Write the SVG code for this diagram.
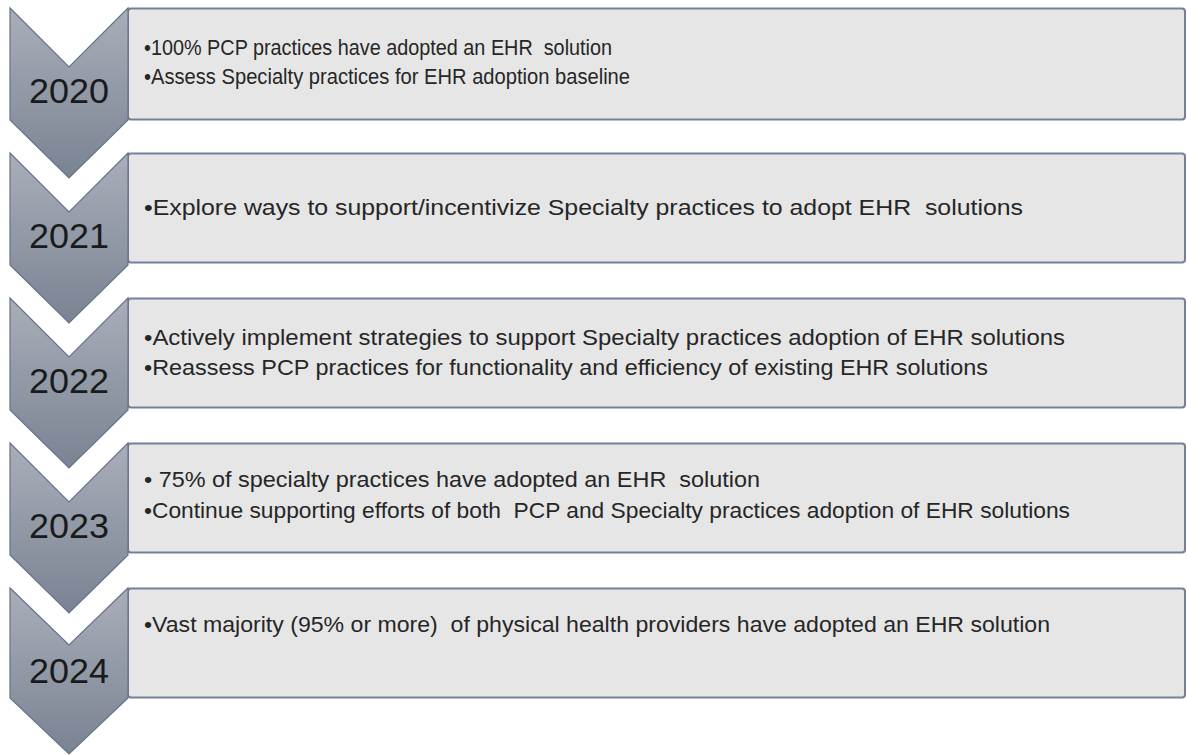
<svg xmlns="http://www.w3.org/2000/svg" width="1187" height="755" viewBox="0 0 1187 755">
<defs>
<linearGradient id="chev" x1="0" y1="0" x2="0" y2="1">
<stop offset="0" stop-color="#a9aeb9"/>
<stop offset="1" stop-color="#7a8393"/>
</linearGradient>
<style>
.box{fill:#e6e6e6;stroke:#74809a;stroke-width:2}
.chev{fill:url(#chev);stroke:#66728a;stroke-width:1.2}
.year{font-family:"Liberation Sans",Arial,sans-serif;font-size:35px;fill:#1a1a1a;text-anchor:middle}
.item{font-family:"Liberation Sans",Arial,sans-serif;font-size:22px;fill:#262626;white-space:pre}
</style>
</defs>
<rect width="1187" height="755" fill="#ffffff"/>
<g id="step2020">
<rect class="box" x="128" y="8.5" width="1057" height="111" rx="3"/>
<polygon class="chev" points="10,8 69,67 128,8 128,120 69,178 10,120"/>
<text class="year" x="69" y="103" textLength="80" lengthAdjust="spacingAndGlyphs">2020</text>
<text class="item" xml:space="preserve" x="144" y="55" textLength="468" lengthAdjust="spacingAndGlyphs">•100% PCP practices have adopted an EHR  solution</text>
<text class="item" x="144" y="84" textLength="486" lengthAdjust="spacingAndGlyphs">•Assess Specialty practices for EHR adoption baseline</text>
</g>
<g id="step2021">
<rect class="box" x="128" y="153.5" width="1057" height="109" rx="3"/>
<polygon class="chev" points="10,153 69,212 128,153 128,265 69,323 10,265"/>
<text class="year" x="69" y="248" textLength="80" lengthAdjust="spacingAndGlyphs">2021</text>
<text class="item" xml:space="preserve" x="144" y="215" textLength="879" lengthAdjust="spacingAndGlyphs">•Explore ways to support/incentivize Specialty practices to adopt EHR  solutions</text>
</g>
<g id="step2022">
<rect class="box" x="128" y="298.5" width="1057" height="109" rx="3"/>
<polygon class="chev" points="10,298 69,357 128,298 128,410 69,468 10,410"/>
<text class="year" x="69" y="393" textLength="80" lengthAdjust="spacingAndGlyphs">2022</text>
<text class="item" x="144" y="345" textLength="921" lengthAdjust="spacingAndGlyphs">•Actively implement strategies to support Specialty practices adoption of EHR solutions</text>
<text class="item" x="144" y="375" textLength="844" lengthAdjust="spacingAndGlyphs">•Reassess PCP practices for functionality and efficiency of existing EHR solutions</text>
</g>
<g id="step2023">
<rect class="box" x="128" y="443.5" width="1057" height="109" rx="3"/>
<polygon class="chev" points="10,443 69,502 128,443 128,555 69,613 10,555"/>
<text class="year" x="69" y="538" textLength="80" lengthAdjust="spacingAndGlyphs">2023</text>
<text class="item" xml:space="preserve" x="144" y="487" textLength="616" lengthAdjust="spacingAndGlyphs">• 75% of specialty practices have adopted an EHR  solution</text>
<text class="item" xml:space="preserve" x="144" y="518" textLength="926" lengthAdjust="spacingAndGlyphs">•Continue supporting efforts of both  PCP and Specialty practices adoption of EHR solutions</text>
</g>
<g id="step2024">
<rect class="box" x="128" y="588.5" width="1057" height="109" rx="3"/>
<polygon class="chev" points="10,588 69,645 128,588 128,698 69,754 10,698"/>
<text class="year" x="69" y="683" textLength="80" lengthAdjust="spacingAndGlyphs">2024</text>
<text class="item" xml:space="preserve" x="144" y="632" textLength="906" lengthAdjust="spacingAndGlyphs">•Vast majority (95% or more)  of physical health providers have adopted an EHR solution</text>
</g>
<g id="connectors"/>
</svg>
